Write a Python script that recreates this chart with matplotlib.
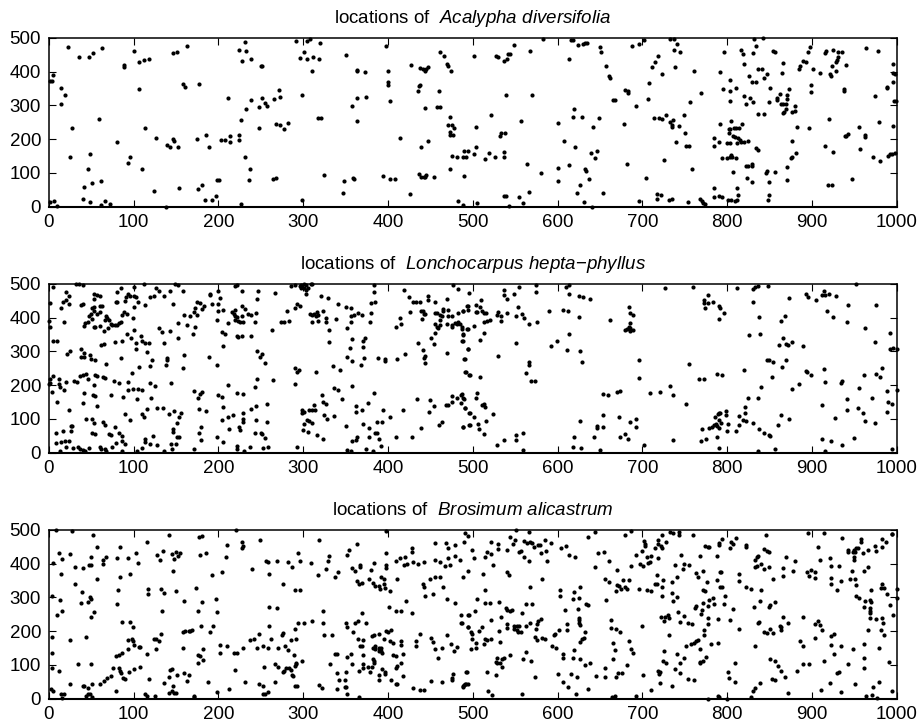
import matplotlib
matplotlib.use('Agg')
import matplotlib.pyplot as plt

plt.rcParams['font.family'] = 'Liberation Sans'
plt.rcParams['mathtext.fontset'] = 'custom'
plt.rcParams['mathtext.it'] = 'Liberation Sans:italic'
plt.rcParams['mathtext.rm'] = 'Liberation Sans'

# tree locations (x, y)
acalypha = [
(1,15),(6,16),(10,1),(23,473),(36,442),(48,444),(52,455),(63,471),(5,390),(2,373),(4,372),(14,351),(19,329),(14,305),
(27,233),(59,260),(25,147),(49,156),(46,111),(42,58),(51,69),(62,77),(40,23),(49,15),(62,5),(66,17),(72,7),(81,191),
(89,418),(89,412),(101,461),(106,428),(112,434),(118,437),(107,349),(114,233),(126,202),(94,128),(96,146),(110,111),
(124,46),(138,0),(140,184),(143,176),(147,199),(148,194),(152,176),(147,454),(151,458),(163,476),(158,363),(161,355),
(177,362),(154,55),(175,200),(186,213),(189,176),(176,51),(181,65),(184,21),(192,21),(197,32),(199,78),(201,79),
(203,197),(208,197),(214,209),(214,191),(211,321),(224,465),(231,487),(233,460),(228,430),(238,436),(224,212),(224,197),
(227,256),(231,146),(237,111),(236,78),(227,9),(239,316),(233,289),(248,294),(251,322),(255,308),(258,298),(266,318),
(272,345),(273,324),(250,416),(252,417),(248,234),(268,244),(273,242),(278,231),(282,247),(264,82),(268,85),
(292,490),(296,439),(301,457),(299,331),(305,489),(305,437),(308,495),(312,443),(310,401),(319,436),(320,484),(318,262),
(321,262),(325,93),(299,20),(351,449),(363,403),(364,402),(373,399),(358,297),(364,322),(374,325),(364,254),(348,76),
(347,41),(359,86),(360,82),(394,90),(402,82),(408,83),(398,474),(400,402),(400,369),(400,361),(402,312),(414,202),
(427,418),(426,37),(438,410),(441,408),(444,402),(447,413),(445,406),(435,341),(437,357),(438,359),(444,292),(439,176),
(447,194),(437,97),(439,89),(442,88),(445,93),(444,88),(454,87),(461,457),(466,447),(470,421),(471,417),(474,402),
(460,341),(458,295),(461,296),(473,265),(471,241),(475,242),(478,234),(473,221),(473,211),(477,212),(476,150),(481,147),
(473,113),(483,17),(488,4),(488,148),(492,148),(490,166),(495,166),(501,157),(504,178),(504,235),(490,90),(502,447),
(515,141),(519,160),(526,148),(537,148),(537,162),(521,272),(532,210),(533,219),(538,218),(539,329),(528,445),(530,444),
(537,432),(540,436),(542,452),(544,453),(549,479),(567,461),(583,496),(557,253),(570,329),(564,126),(581,100),(537,31),
(539,32),(555,28),(559,10),(566,43),(543,2),(505,10),(601,249),(600,114),(600,77),(608,193),(621,177),(613,124),
(632,111),(634,105),(637,81),(627,65),(623,40),(631,15),(641,0),(654,41),(639,159),(646,166),(644,144),(642,235),
(618,264),(629,264),(649,261),(620,288),(614,438),(616,492),(618,493),(624,479),(630,482),(633,484),(635,485),(650,472),
(651,457),(657,415),(661,386),(662,380),(665,317),(668,316),(680,346),(683,343),(683,337),(693,297),(679,244),(682,125),
(688,476),(696,481),(702,493),(712,414),(715,428),(718,445),(723,393),(708,367),(707,320),(714,261),(720,262),(723,259),
(728,271),(736,257),(733,251),(735,241),(735,235),(743,240),(749,271),(750,219),(740,192),(752,180),(755,180),(726,139),
(759,113),(704,85),(696,16),(717,39),(722,36),(717,23),(731,21),(735,22),(754,13),(768,24),(770,18),(772,12),(774,7),
(733,495),(737,495),(741,480),(737,464),(745,458),(739,414),(761,401),(769,337),(756,310),(796,457),(816,463),(819,452),
(832,496),(842,500),(834,476),(830,454),(820,422),(792,398),(804,374),(795,348),(803,343),(811,352),(803,314),(820,327),
(827,322),(822,303),(830,310),(836,408),(841,406),(826,388),(847,394),(844,380),(829,370),(834,368),(837,274),(843,274),
(851,350),(849,311),(854,461),(856,459),(866,424),(865,397),(873,347),(859,322),(862,332),(859,315),(863,305),(866,304),
(871,329),(871,320),(869,304),(869,288),(867,281),(866,276),(877,279),(880,298),(880,284),(882,236),(876,194),(886,416),
(885,406),(890,431),(893,427),(895,458),(898,473),(901,407),(909,396),(899,361),(899,339),(896,233),(916,456),(917,462),
(925,465),(931,457),(935,457),(931,442),(930,434),(928,427),(924,416),(929,401),(940,420),(921,392),(922,388),(938,347),
(938,341),(920,260),(964,470),(978,461),(996,421),(996,397),(998,392),(996,369),(988,354),(989,351),(974,327),(997,312),
(999,314),(996,240),(979,250),(956,236),(942,214),(939,210),(940,209),(963,213),(963,206),(957,172),(916,181),(925,163),
(972,146),(980,134),(990,151),(992,156),(995,157),(998,158),(947,83),(919,63),(924,63),(881,158),(877,148),(875,145),
(871,116),(871,78),(792,244),(805,253),(818,244),(802,231),(804,229),(808,232),(811,234),(814,234),(802,218),(785,204),
(790,191),(785,180),(800,189),(803,189),(807,209),(809,205),(813,202),(815,197),(812,187),(816,191),(820,190),(825,193),
(834,175),(837,168),(794,145),(800,143),(803,146),(805,152),(806,148),(810,145),(807,103),(822,121),(825,121),(829,125),
(829,119),(824,86),(829,73),(847,105),(846,100),(856,103),(849,74),(849,36),(848,20),(785,55),(785,30),(791,31),(794,30),
(801,21),(805,19),(809,18),(812,19),(813,36),(812,55),
]

lonchocarpus = [
(5,491),(32,498),(36,500),(40,495),(2,442),(20,474),(24,465),(20,452),(17,445),(14,429),(24,440),(18,387),(38,437),(40,440),
(54,471),(57,468),(60,465),(53,454),(51,427),(53,430),(60,435),(63,435),(54,420),(50,410),(48,403),(51,397),(57,409),(60,417),
(55,373),(53,372),(61,375),(42,374),(43,384),(46,386),(68,403),(69,398),(66,393),(71,393),(65,360),(70,368),(73,381),(75,377),
(78,378),(81,378),(83,385),(85,386),(86,407),(89,416),(92,409),(79,446),(81,447),(81,474),(85,486),(94,469),(91,460),(90,449),
(96,465),(101,491),(101,465),(103,460),(99,400),(105,445),(101,430),(112,500),(114,436),(120,461),(124,465),(127,487),(130,477),
(136,463),(143,478),(149,499),(153,496),(158,479),(146,440),(152,385),(160,407),(167,405),(171,415),(175,447),(178,443),(183,435),
(181,424),(175,407),(172,429),(190,471),(190,467),(192,440),(200,478),(202,459),(200,440),(200,420),(205,422),(198,392),(211,385),
(204,356),(208,350),(163,378),(173,372),(170,351),(130,370),(134,356),(143,361),(152,340),(136,326),(160,290),(140,280),(140,275),
(138,260),(158,250),(110,329),(109,344),(118,326),(114,326),(103,326),(103,307),(97,338),(92,350),(100,364),(78,328),(86,330),
(85,279),(116,299),(122,275),(120,256),(107,253),(98,236),(62,320),(65,321),(5,331),(10,331),(22,292),(25,300),(38,307),(42,296),
(38,284),(42,284),(49,289),(50,276),(55,275),(68,263),(0,389),(2,372),(5,228),(2,217),(2,206),(0,203),(12,217),(12,203),(13,193),
(18,186),(20,210),(4,179),(10,151),(30,213),(33,209),(37,226),(40,229),(44,232),(46,217),(55,230),(57,227),(64,225),(66,222),
(53,199),(42,176),(41,148),(52,172),(55,167),(57,139),(73,171),(77,213),(83,206),(93,209),(88,164),(94,186),(99,189),(105,188),
(110,185),(104,159),(119,206),(125,198),(121,162),(144,207),(24,125),(44,100),(51,100),(54,87),(26,80),(28,78),(26,65),(17,64),
(9,58),(64,92),(66,82),(51,59),(55,54),(71,54),(74,51),(78,77),(83,57),(86,49),(90,114),(96,98),(110,115),(112,106),(116,128),
(128,132),(135,132),(142,115),(148,122),(156,118),(154,106),(151,89),(147,71),(147,61),(151,47),(154,47),(144,27),(150,26),(145,11),
(9,28),(15,31),(19,35),(24,35),(20,17),(13,5),(29,14),(35,17),(37,11),(40,7),(43,6),(47,14),(61,17),(62,10),(66,12),(68,4),(75,16),
(79,28),(86,35),(86,6),(90,27),(104,4),(110,13),(113,33),(114,42),(120,27),(123,49),(128,22),(136,5),(171,12),(177,58),(180,77),
(180,37),(177,128),(185,124),(171,184),(176,163),(179,174),(181,181),(189,283),(199,260),(205,317),(198,45),(205,32),(200,171),
(204,165),(206,134),(204,96),(211,106),(217,112),(213,69),(224,75),(226,68),(222,19),(222,10),(230,6),(237,16),(229,117),(229,101),
(229,92),(239,128),(244,138),(245,96),(243,58),(250,57),(252,55),(255,43),(253,14),(259,18),(258,92),(258,145),(222,178),(229,175),
(212,200),(243,193),(246,218),(265,215),(216,415),(218,409),(220,423),(222,496),(220,492),(228,477),(247,478),(246,455),(267,473),
(228,434),(231,424),(220,405),(222,402),(220,393),(223,390),(225,388),(229,386),(228,405),(235,409),(239,406),(244,414),(243,386),
(222,346),(223,343),(228,346),(238,344),(246,301),(249,282),(252,291),(255,266),(263,364),(274,386),(277,388),(283,391),(281,420),
(286,492),(291,496),(291,427),(293,440),(296,434),(296,492),(298,496),(301,498),(304,496),(309,498),(311,500),(298,486),(301,486),
(303,481),(306,486),(304,470),(321,464),(329,457),(341,441),(308,411),(310,407),(313,409),(316,417),(318,407),(315,403),(310,388),
(317,391),(324,420),(327,400),(327,386),(330,363),(339,396),(330,327),(350,431),(356,429),(356,403),(360,406),(356,388),(352,370),
(365,413),(370,406),(380,412),(379,388),(380,444),(385,446),(384,476),(384,496),(358,336),(373,339),(371,331),(371,313),(355,310),
(372,281),(352,282),(358,270),(368,260),(388,281),(396,278),(396,271),(290,250),(295,246),(293,239),(315,239),(335,257),(344,246),
(290,204),(336,191),(341,186),(322,171),(346,158),(358,197),(323,150),(327,145),(313,140),(299,125),(299,117),(301,120),(307,126),
(310,125),(314,127),(305,98),(301,86),(307,94),(310,88),(300,67),(306,62),(316,53),(323,41),(325,112),(328,100),(337,108),(293,18),
(350,78),(352,8),(357,4),(358,34),(362,38),(363,47),(362,138),(362,119),(370,126),(376,146),(371,84),(378,72),(378,47),(374,12),
(382,4),(384,176),(387,92),(393,90),(394,126),(403,106),(385,57),(387,57),(389,40),(392,20),(410,47),(418,127),(429,46),(434,159),
(439,72),(450,155),(454,139),(449,119),(464,92),(460,81),(410,373),(414,400),(415,381),(411,278),(420,292),(419,482),(425,462),
(426,417),(430,445),(433,447),(438,447),(447,465),(447,452),(455,447),(470,456),(439,418),(441,420),(442,410),(444,409),(440,397),
(435,326),(441,304),(444,287),(442,280),(444,265),(451,338),(454,321),(456,353),(455,414),(458,412),(461,408),(462,393),(456,382),
(458,373),(461,378),(459,369),(465,425),(465,420),(464,405),(471,421),(471,405),(476,404),(470,382),(475,378),(479,383),(481,380),
(483,387),(485,382),(477,496),(483,483),(470,294),(475,373),(483,414),(489,419),(493,433),(487,373),(493,366),(488,350),(487,331),
(495,308),(490,278),(492,240),(496,230),(469,142),(471,142),(475,149),(476,169),(481,162),(486,171),(489,163),(491,132),(496,118),
(489,76),(496,81),(496,473),(537,481),(537,468),(540,455),(549,471),(555,490),(575,496),(575,474),(510,451),(504,436),(509,431),
(495,434),(488,420),(495,421),(504,417),(505,417),(511,420),(513,414),(516,413),(513,388),(517,390),(520,394),(530,417),(529,407),
(533,405),(540,413),(533,390),(551,404),(558,409),(560,399),(566,381),(576,386),(553,432),(590,419),(606,422),(612,420),(625,402),
(610,489),(614,496),(613,470),(625,465),(630,461),(638,454),(662,392),(727,486),(760,490),(501,375),(494,367),(487,366),(489,348),
(489,331),(513,354),(509,334),(495,308),(491,278),(491,240),(497,230),(509,225),(530,287),(551,326),(592,317),(599,329),(613,352),
(611,305),(627,301),(629,267),(566,268),(566,258),(563,237),(569,212),(573,211),(487,173),(490,160),(486,147),(491,131),(497,118),
(501,106),(505,176),(504,161),(511,141),(513,145),(514,134),(524,115),(516,93),(506,84),(507,70),(497,82),(489,77),(513,55),(529,24),
(537,38),(551,53),(551,39),(559,58),(559,7),(654,175),(660,172),(670,180),(674,183),(654,113),(627,95),(619,45),(618,17),(628,13),
(650,7),(643,47),(646,72),(647,79),(654,76),(672,106),(685,92),(693,100),(692,76),(680,55),(674,45),(683,41),(702,24),(709,177),
(721,179),(733,196),(736,171),(751,143),(736,37),(696,275),(696,220),(755,263),(767,218),(773,217),(788,232),(794,231),(820,246),
(853,223),(840,195),(836,163),(825,161),(847,273),(849,273),(854,268),(865,255),(870,273),(893,243),(894,240),(899,230),(914,247),
(916,209),(934,207),(936,211),(983,252),(976,234),(980,223),(961,231),(956,190),(989,183),(1000,186),(885,204),(876,189),(684,432),
(686,414),(689,408),(685,383),(684,373),(680,364),(682,366),(685,368),(689,364),(686,361),(773,452),(773,443),(778,442),(774,429),
(777,467),(783,445),(790,434),(792,429),(796,413),(791,397),(812,486),(830,484),(833,489),(836,494),(848,492),(831,445),(838,402),
(826,347),(839,351),(873,459),(868,405),(863,390),(866,340),(861,319),(869,323),(872,319),(877,328),(889,316),(893,471),(895,461),
(905,451),(912,467),(914,477),(916,468),(920,470),(928,465),(942,438),(952,500),(918,419),(925,402),(941,387),(963,370),(976,436),
(992,354),(974,327),(992,306),(996,309),(1000,306),(786,105),(789,115),(791,117),(792,118),(799,122),(799,111),(790,97),(779,72),
(782,77),(784,83),(787,86),(788,78),(790,73),(793,88),(801,86),(770,69),(800,63),(814,110),(821,117),(821,134),(814,81),(810,63),
(819,97),(822,93),(831,87),(838,71),(843,59),(849,51),(850,48),(769,36),(775,42),(788,45),(790,13),(836,4),(856,10),(864,113),
(860,83),(873,101),(912,142),(927,104),(941,159),(941,127),(954,132),(960,116),(963,93),(974,87),(971,162),(990,149),(994,144),
(988,119),(912,42),(923,36),(935,22),(950,43),(916,4),(994,12),
]

brosimum = [
(9,498),(28,496),(52,484),(57,450),(84,449),(5,402),(12,432),(16,413),(25,427),(14,370),(31,390),(41,388),(50,419),(48,395),(50,396),
(64,400),(64,410),(68,420),(80,415),(93,416),(103,430),(105,402),(96,369),(84,361),(57,354),(31,340),(39,317),(4,304),(13,293),(38,284),
(46,285),(49,302),(50,294),(82,322),(81,279),(54,256),(50,243),(16,258),(10,248),(86,227),(96,227),(99,211),(4,183),(25,174),(44,183),
(94,175),(98,178),(99,172),(101,158),(107,153),(108,153),(94,147),(4,136),(4,91),(12,81),(34,103),(50,103),(86,134),(83,130),(79,127),
(76,90),(83,92),(84,82),(85,76),(74,68),(69,62),(65,52),(60,44),(51,44),(88,60),(90,59),(95,79),(101,87),(108,93),(79,24),(25,44),(3,30),
(5,23),(14,15),(18,15),(16,1),(40,38),(42,37),(46,32),(44,8),(46,15),(49,13),(51,6),(114,14),(116,8),(125,7),(118,58),(116,132),(126,147),
(124,178),(127,178),(130,172),(133,192),(134,260),(117,325),(117,310),(133,326),(136,312),(150,319),(159,288),(116,463),(128,425),(131,411),
(135,436),(142,483),(145,428),(148,413),(150,433),(153,422),(155,431),(146,377),(177,477),(181,482),(178,426),(185,432),(174,327),(181,285),
(176,260),(193,366),(204,376),(197,296),(198,256),(210,456),(209,419),(221,500),(228,463),(229,453),(228,445),(240,383),(249,469),(180,214),
(194,216),(190,198),(158,197),(161,199),(165,201),(167,201),(169,202),(158,149),(176,130),(178,127),(176,107),(182,148),(182,115),(202,159),
(210,156),(202,134),(218,134),(222,134),(229,150),(237,175),(242,176),(248,190),(246,150),(253,156),(259,151),(262,178),(260,214),(260,272),
(269,268),(276,339),(260,369),(256,407),(259,405),(269,408),(282,405),(287,391),(294,431),(296,408),(291,323),(296,323),(319,471),(309,401),
(318,366),(327,384),(329,407),(330,421),(324,259),(338,361),(341,375),(232,49),(248,44),(253,37),(253,15),(255,14),(259,20),(254,95),(267,103),
(270,94),(267,48),(291,97),(220,85),(213,30),(199,21),(188,50),(171,8),(171,4),(165,69),(160,76),(163,53),(151,70),(143,84),(145,88),(142,65),
(146,38),(136,46),(142,17),(145,24),(148,16),(150,16),(270,150),(275,188),(276,193),(279,157),(282,143),(286,173),(289,130),(291,205),(292,176),
(294,224),(301,223),(310,229),(323,223),(325,187),(334,188),(299,113),(292,106),(292,102),(286,84),(287,71),(288,66),(283,92),(280,92),(278,83),
(276,80),(291,37),(293,38),(319,40),(322,32),(332,102),(350,224),(352,211),(359,196),(365,176),(371,174),(361,225),(365,229),(370,254),(374,224),
(357,132),(352,123),(338,131),(340,133),(367,157),(369,155),(371,128),(358,102),(351,80),(340,76),(342,54),(349,54),(340,28),(349,35),(351,35),
(352,14),(366,4),(366,83),(371,92),(371,103),(377,94),(381,94),(379,80),(384,111),(384,105),(389,70),(389,54),(393,88),(397,80),(397,73),(404,56),
(409,44),(411,44),(410,92),(411,96),(415,106),(418,67),(430,33),(438,26),(442,25),(451,52),(464,50),(477,73),(476,60),(476,55),(489,37),(491,44),
(494,44),(493,79),(381,186),(384,187),(389,190),(395,177),(400,198),(398,200),(404,202),(402,170),(406,165),(416,171),(416,159),(382,150),(385,157),
(385,147),(389,150),(392,141),(392,149),(393,134),(389,142),(383,116),(406,129),(410,126),(418,131),(354,440),(352,424),(364,457),(358,388),(361,379),
(367,396),(367,389),(363,348),(366,340),(370,343),(378,354),(380,382),(384,402),(383,343),(385,333),(389,333),(391,325),(395,340),(392,360),(395,354),
(396,328),(398,395),(398,386),(398,432),(398,495),(403,318),(401,271),(410,258),(416,258),(421,290),(429,255),(411,354),(410,406),(414,416),(420,419),
(419,397),(423,398),(428,433),(429,445),(430,405),(435,398),(443,403),(441,340),(442,330),(444,304),(450,354),(453,311),(456,361),(461,359),(465,331),
(470,296),(479,284),(455,460),(455,410),(461,405),(467,393),(473,397),(471,417),(469,461),(471,445),(479,455),(479,423),(485,409),(488,360),(494,378),
(491,489),(495,482),(490,463),(433,172),(433,156),(438,190),(451,180),(453,168),(455,148),(459,121),(464,151),(470,188),(474,163),(478,142),(482,153),
(486,248),(487,225),(495,212),(495,248),(499,440),(501,415),(512,369),(515,420),(517,435),(521,427),(521,463),(530,458),(530,443),(540,440),(524,395),
(540,374),(543,366),(544,478),(550,471),(548,457),(551,499),(566,494),(560,467),(564,461),(568,465),(570,461),(572,450),(577,456),(579,455),(557,437),
(555,433),(561,420),(566,406),(581,431),(586,437),(585,470),(592,461),(588,406),(582,353),(568,329),(604,446),(610,451),(614,424),(621,419),(636,477),
(644,494),(648,431),(655,435),(661,407),(644,390),(670,382),(656,354),(661,344),(670,335),(672,332),(677,350),(684,350),(669,318),(675,325),(680,331),
(682,326),(657,291),(627,331),(620,316),(603,321),(603,304),(618,296),(625,298),(634,281),(636,276),(624,265),(609,263),(505,295),(515,321),(515,282),
(520,283),(531,287),(503,258),(496,248),(486,225),(494,212),(498,196),(499,190),(499,178),(507,200),(511,213),(504,164),(498,147),(504,151),(513,161),
(515,178),(517,174),(522,178),(522,233),(531,200),(533,242),(539,267),(541,262),(544,260),(546,262),(558,254),(563,280),(570,281),(541,222),(540,209),
(549,216),(552,216),(555,216),(549,206),(552,203),(554,198),(557,196),(563,216),(568,225),(577,230),(581,236),(576,220),(575,205),(574,184),(576,174),
(582,179),(585,177),(532,168),(593,155),(598,149),(596,188),(597,191),(602,203),(611,220),(611,204),(625,240),(625,232),(625,224),(626,218),(632,196),
(631,180),(629,177),(627,169),(620,143),(607,131),(607,121),(618,119),(626,116),(633,101),(638,106),(544,128),(537,121),(535,117),(529,121),(527,109),
(529,105),(532,105),(535,93),(563,137),(559,118),(569,111),(573,64),(528,70),(517,79),(492,80),(492,44),(490,42),(489,36),(518,24),(523,10),(558,15),
(601,72),(607,49),(612,36),(616,73),(623,65),(622,14),(636,28),(645,67),(656,92),(656,63),(669,64),(671,77),(676,76),(682,100),(664,6),(668,8),(693,7),
(701,70),(710,25),(721,46),(735,39),(718,83),(721,80),(720,72),(724,113),(728,105),(739,88),(744,75),(754,57),(761,56),(745,107),(749,119),(741,131),
(726,142),(768,146),(768,109),(768,105),(772,113),(775,122),(781,161),(789,164),(752,156),(758,161),(761,164),(763,171),(766,174),(773,187),(773,203),
(777,222),(778,238),(731,188),(700,215),(663,233),(663,209),(669,206),(674,198),(665,166),(668,144),(666,116),(684,171),(687,146),(689,135),(722,243),
(725,231),(727,242),(730,248),(731,238),(745,228),(742,257),(749,245),(754,223),(759,221),(762,267),(763,274),(770,263),(769,251),(771,282),(778,275),
(784,279),(789,235),(779,292),(783,299),(772,321),(774,320),(796,280),(798,305),(804,234),(807,266),(814,205),(792,329),(794,331),(788,351),(792,376),
(793,375),(776,344),(763,372),(766,360),(772,378),(814,369),(814,349),(822,330),(828,325),(840,322),(696,326),(705,321),(710,320),(715,340),(717,340),
(723,329),(717,366),(723,304),(735,313),(741,301),(736,288),(735,346),(741,361),(724,351),(687,392),(692,426),(697,398),(701,394),(707,401),(709,403),
(706,418),(710,422),(719,417),(702,467),(703,458),(700,437),(703,453),(715,445),(719,457),(722,453),(719,469),(723,483),(728,463),(723,447),(733,492),
(736,489),(743,494),(743,484),(760,485),(680,484),(687,497),(739,395),(746,425),(749,398),(755,395),(748,385),(768,422),(774,453),(777,450),(779,448),
(788,423),(791,455),(791,460),(794,472),(804,445),(805,463),(807,459),(810,474),(822,455),(822,448),(833,410),(835,418),(837,423),(833,391),(835,393),
(840,398),(849,391),(844,384),(844,442),(847,438),(849,435),(846,485),(854,354),(866,388),(866,363),(869,419),(878,379),(880,406),(895,489),(914,489),
(907,449),(909,411),(894,376),(896,364),(899,381),(904,375),(904,358),(921,416),(923,393),(932,393),(923,358),(922,339),(934,349),(930,321),(936,474),
(945,354),(947,377),(951,355),(952,336),(958,472),(958,464),(943,440),(943,433),(948,435),(950,440),(952,445),(954,447),(951,433),(950,420),(950,410),
(960,432),(966,440),(974,452),(975,437),(983,473),(987,463),(983,449),(994,487),(995,486),(961,377),(966,389),(970,322),(981,328),(983,338),(985,328),
(989,310),(1000,324),(1000,299),(952,304),(956,298),(963,289),(968,292),(970,285),(962,271),(968,269),(968,260),(969,254),(968,239),(976,237),(983,240),
(984,224),(992,277),(996,248),(982,203),(985,188),(966,203),(832,272),(839,289),(849,272),(850,277),(857,285),(836,223),(838,226),(843,198),(847,193),
(851,207),(854,193),(866,243),(862,216),(864,211),(864,203),(872,223),(889,241),(904,221),(907,231),(909,218),(912,202),(904,180),(922,185),(926,190),
(923,160),(934,157),(926,132),(948,146),(962,162),(979,151),(886,170),(890,157),(833,155),(851,116),(857,112),(860,97),(863,83),(868,65),(853,57),
(856,54),(839,45),(833,33),(830,24),(828,5),(809,107),(801,80),(802,62),(809,49),(777,0),(789,9),(791,4),(800,0),(872,16),(882,83),(890,103),(896,103),
(914,112),(930,77),(932,79),(943,103),(962,119),(962,90),(911,25),(921,45),(934,19),(951,43),(972,34),(979,48),(964,7),(971,10),(977,1),(995,23),(991,109),
]

titles = [r'locations of  $\mathit{Acalypha\ diversifolia}$',
          r'locations of  $\mathit{Lonchocarpus\ hepta{-}phyllus}$',
          r'locations of  $\mathit{Brosimum\ alicastrum}$']
species = [acalypha, lonchocarpus, brosimum]
xticks = [0, 100, 200, 300, 400, 500, 600, 700, 800, 900, 1000]
yticks = [0, 100, 200, 300, 400, 500]

W, H = 921, 727
fig = plt.figure(figsize=(W/100, H/100), dpi=100)
tops = [37.7, 283.7, 529.7]
for pts, title, top in zip(species, titles, tops):
    ax = fig.add_axes([48.7/W, 1-(top+169)/H, 848/W, 169/H])
    x, y = zip(*pts)
    ax.scatter(x, y, s=9, c='black', linewidths=0, clip_on=False, zorder=3)
    ax.set_xlim(0, 1000)
    ax.set_ylim(0, 500)
    ax.set_xticks(xticks)
    ax.set_yticks(yticks)
    ax.tick_params(direction='in', top=True, right=True, length=5, width=0.8,
                   labelsize=13.5, pad=5.5)
    for s in ax.spines.values():
        s.set_linewidth(1.1)
    ax.spines['bottom'].set_linewidth(1.5)
    ax.set_title(title, fontsize=13.5, pad=10.7)

fig.savefig('out.png', dpi=100)
